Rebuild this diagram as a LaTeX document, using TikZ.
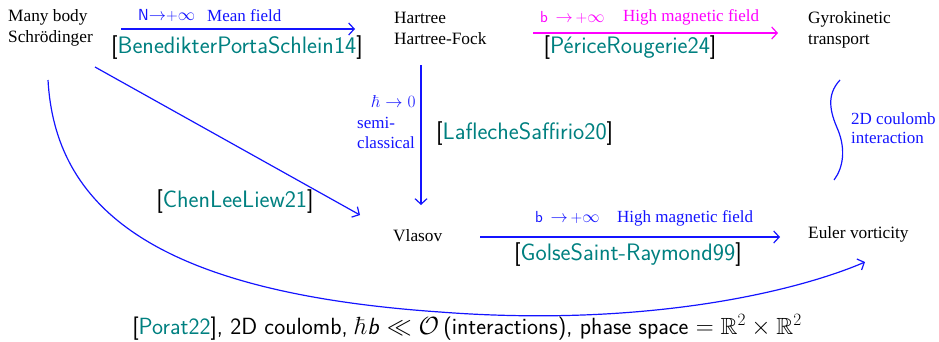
\documentclass[tikz,border=0pt]{standalone}
\usepackage{amssymb}
\usepackage{fontspec}
\newfontfamily\tms{Liberation Serif}
\usetikzlibrary{arrows.meta,calc}
\definecolor{citecol}{RGB}{0,128,128}
\definecolor{myblue}{RGB}{20,20,255}
\definecolor{mymag}{RGB}{255,0,255}
\newcommand{\ct}[1]{{\sffamily\fontsize{23.8}{28}\selectfont[\textcolor{citecol}{#1}]}}
\tikzset{
  lbl/.style={inner sep=0pt, align=left, font=\tms\fontsize{17.3}{21}\selectfont},
  note/.style={inner sep=0pt, align=left, font=\tms\fontsize{17}{19.5}\selectfont},
  hand/.style={inner sep=0pt, font=\sffamily\fontsize{16}{18}\selectfont},
  cite/.style={inner sep=0pt},
  arr/.style={line width=1.2pt, -{Straight Barb[length=5.5pt,width=12pt,line width=1.2pt]}},
}
\begin{document}
\begin{tikzpicture}[x=1pt,y=-1pt]
\useasboundingbox (0,0) rectangle (939,341);
% main nodes
\node[lbl, anchor=west] (mb) at (8,28) {Many body\\Schr\"odinger};
\node[lbl, anchor=west] (hf) at (394,28) {Hartree\\Hartree-Fock};
\node[lbl, anchor=west] (gk) at (808,30) {Gyrokinetic\\transport};
\node[lbl, anchor=west] (vl) at (393,236) {Vlasov};
\node[lbl, anchor=west] (eu) at (808,234) {Euler vorticity};

% arrow 1
\coordinate (a1s) at (121,29);
\coordinate (a1e) at (355,29);
\draw[arr, myblue] (a1s) -- (a1e);
\node[hand, text=myblue, anchor=west] (h1) at (138,15) {N$\to$+$\infty$};
\node[note, text=myblue, anchor=west] (mf) at (207,16) {Mean field};
\node[cite] (c1) at (237,48) {\ct{BenedikterPortaSchlein14}};

% magenta arrow
\coordinate (a2s) at (533,33);
\coordinate (a2e) at (778,33);
\draw[arr, mymag] (a2s) -- (a2e);
\node[hand, text=mymag, anchor=west] (h2) at (540,17) {b\ \,$\to$\,+$\infty$};
\node[note, text=mymag, anchor=west] (hm1) at (623,17) {High magnetic field};
\node[cite] (c2) at (630,48) {\ct{P\'ericeRougerie24}};

% vertical arrow
\coordinate (a3s) at (421,65);
\coordinate (a3e) at (421,205);
\draw[arr, myblue] (a3s) -- (a3e);
\node[hand, text=myblue, anchor=west] (h3) at (372,101) {$\hbar\to 0$};
\node[note, text=myblue, anchor=west] (sc) at (357,133) {semi-\\classical};
\node[cite, anchor=west] (c3) at (436,134) {\ct{LaflecheSaffirio20}};

% diagonal arrow
\coordinate (a4s) at (95,67);
\coordinate (a4e) at (360,215);
\draw[arr, myblue] (a4s) -- (a4e);
\node[cite] (c4) at (235,202) {\ct{ChenLeeLiew21}};

% bottom horizontal arrow
\coordinate (a5s) at (480,237);
\coordinate (a5e) at (780,237);
\draw[arr, myblue] (a5s) -- (a5e);
\node[hand, text=myblue, anchor=west] (h5) at (535,217) {b\ \,$\to$\,+$\infty$};
\node[note, text=myblue, anchor=west] (hm2) at (617,218) {High magnetic field};
\node[cite] (c5) at (628,255) {\ct{GolseSaint-Raymond99}};

% right brace curve
\draw[myblue, line width=1.2pt] (840,80) .. controls (826,95) and (830,112) .. (838,130) .. controls (846,150) and (843,168) .. (834,180);
\node[note, text=myblue, anchor=west] (cl) at (851,128) {2D coulomb\\interaction};

% big curve
\coordinate (a6s) at (48,80);
\coordinate (a6m) at (440,312);
\coordinate (a6e) at (865,262);
\draw[arr, myblue] (a6s) .. controls (55,205) and (150,292) .. (a6m) .. controls (650,328) and (800,290) .. (a6e);

% bottom text
\node[inner sep=0pt, font=\sffamily\fontsize{23.4}{28}\selectfont] (bt) at (467,327)
  {[\textcolor{citecol}{Porat22}], 2D coulomb, $\hbar$\textit{b} $\ll \mathcal{O}\,$(interactions), phase space $=\mathbb{R}^2\times\mathbb{R}^2$};
\end{tikzpicture}
\end{document}
